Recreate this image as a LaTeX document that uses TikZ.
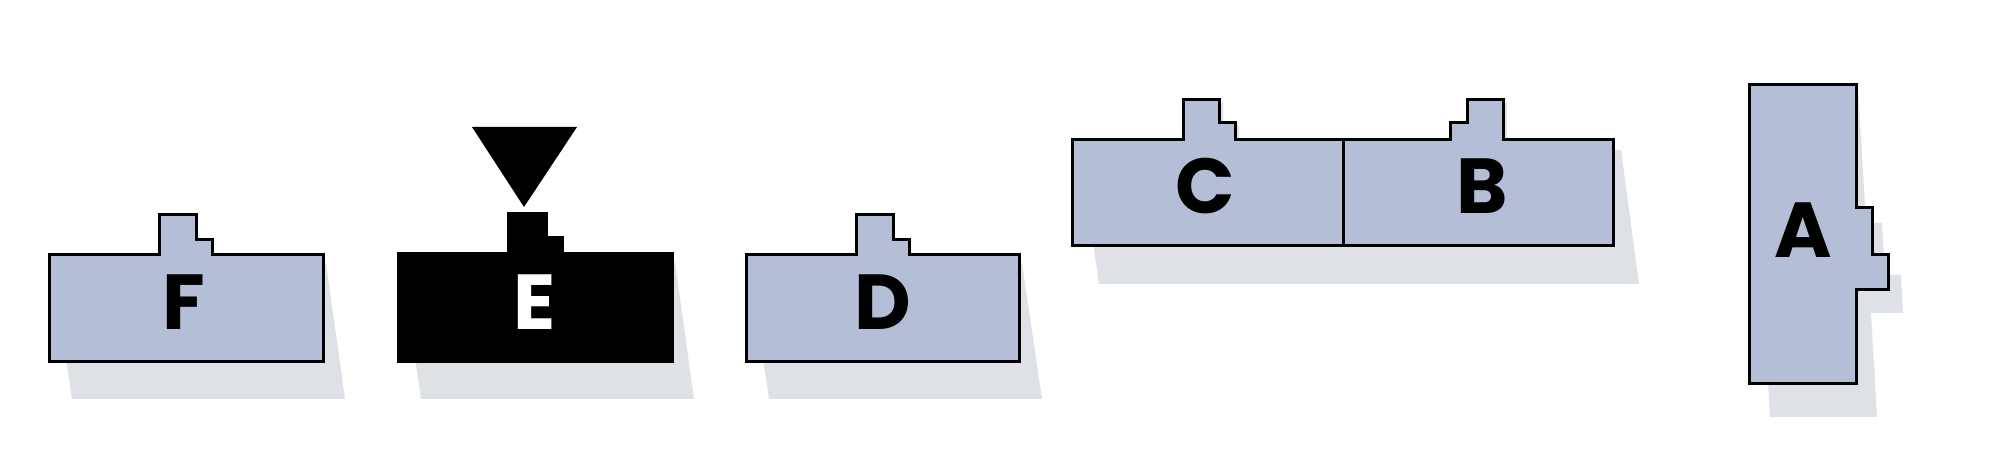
\documentclass[tikz,border=0pt]{standalone}
\usepackage{fontspec}
\newfontfamily\pop{Poppins}
\tikzset{
  part/.style={draw=black, fill=partblue, line width=1.5pt, line join=miter},
  darkpart/.style={draw=black, fill=black, line width=1.5pt, line join=miter},
  shade/.style={fill=shadowgray, draw=none},
  lbl/.style={font=\pop\bfseries\fontsize{39}{39}\selectfont, inner sep=0pt, anchor=center},
}
\definecolor{partblue}{RGB}{180,190,215}
\definecolor{shadowgray}{RGB}{222,225,229}
\begin{document}
\begin{tikzpicture}[x=0.5pt,y=-0.5pt]
\useasboundingbox (0,0) rectangle (2000,458);
% ---------- shadows ----------
\fill[shade] (52,263) -- (326,263) -- (345,399) -- (72,399) -- cycle;
\fill[shade] (401,262) -- (675,262) -- (694,399) -- (421,399) -- cycle;
\fill[shade] (749,263) -- (1022,263) -- (1042,399) -- (769,399) -- cycle;
\fill[shade] (1080,150) -- (1621,150) -- (1639,284) -- (1099,284) -- cycle;
\fill[shade] (1187,103) -- (1223,103) -- (1223,126) -- (1239,126) -- (1239,143) -- (1187,143) -- cycle;
\fill[shade] (1454,126) -- (1471,126) -- (1471,103) -- (1507,103) -- (1507,143) -- (1454,143) -- cycle;
\fill[shade] (1751,88) -- (1858,88) -- (1866,223) -- (1882,223) -- (1885,275) -- (1901,275)
  -- (1903,313) -- (1871,313) -- (1877,417) -- (1770,417) -- cycle;
% ---------- F ----------
\draw[part] (49,255) -- (159,255) -- (159,215) -- (196,215) -- (196,240) -- (212,240) -- (212,255)
  -- (323,255) -- (323,362) -- (49,362) -- cycle;
\node[lbl] (F) at (184,302.5) {F};
% ---------- E ----------
\fill[black] (472,127) -- (577,127) -- (524,207) -- cycle;
\draw[darkpart] (398,254) -- (508,254) -- (508,214) -- (546,214) -- (546,238) -- (562,238) -- (562,254)
  -- (672,254) -- (672,362) -- (398,362) -- cycle;
\node[lbl, text=white] (E) at (535,302) {E};
% ---------- D ----------
\draw[part] (746,255) -- (856,255) -- (856,215) -- (893,215) -- (893,240) -- (909,240) -- (909,255)
  -- (1019,255) -- (1019,362) -- (746,362) -- cycle;
\node[lbl] (D) at (883,302) {D};
% ---------- C ----------
\draw[part] (1072,140) -- (1183,140) -- (1183,100) -- (1219,100) -- (1219,123) -- (1235,123) -- (1235,140)
  -- (1343,140) -- (1343,246) -- (1072,246) -- cycle;
\node[lbl] (C) at (1205,186) {C};
% ---------- B ----------
\draw[part] (1343,140) -- (1450,140) -- (1450,123) -- (1467,123) -- (1467,100) -- (1503,100) -- (1503,140)
  -- (1613,140) -- (1613,246) -- (1343,246) -- cycle;
\node[lbl] (B) at (1482,186) {B};
% ---------- A ----------
\draw[part] (1749,85) -- (1856,85) -- (1856,208) -- (1872,208) -- (1872,255) -- (1888,255) -- (1888,290)
  -- (1856,290) -- (1856,384) -- (1749,384) -- cycle;
\node[lbl] (A) at (1803,230.5) {A};
\end{tikzpicture}
\end{document}
